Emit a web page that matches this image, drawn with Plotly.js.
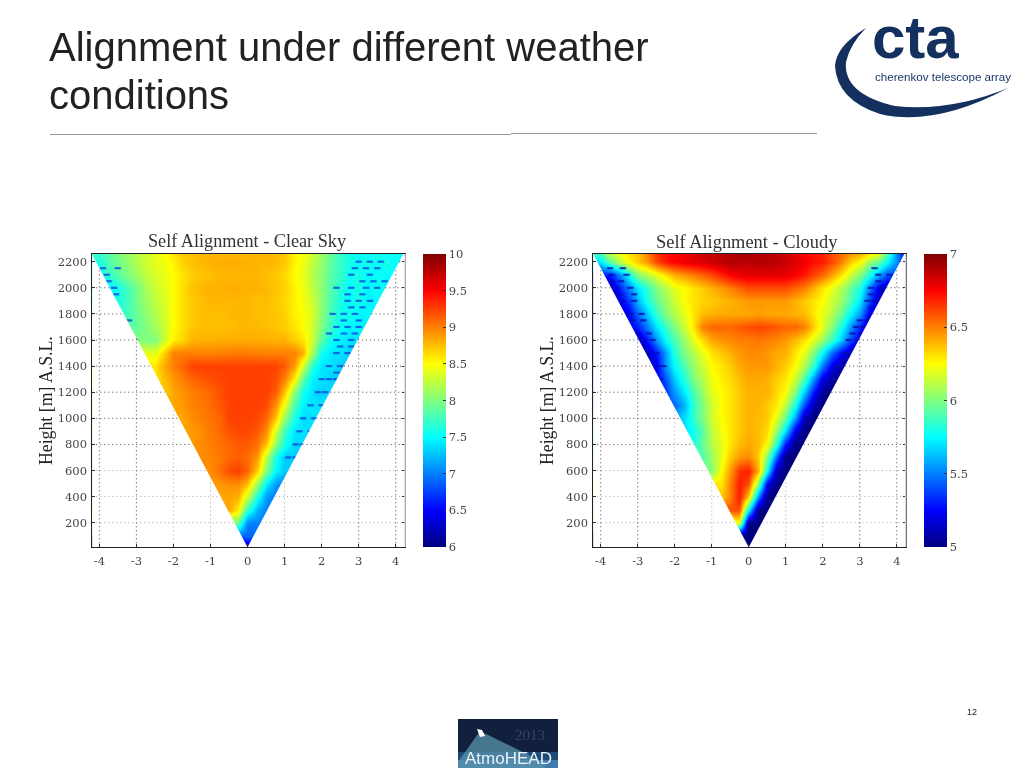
<!DOCTYPE html>
<html><head><meta charset="utf-8">
<script src="https://cdn.plot.ly/plotly-3.0.1.min.js"></script>
<style>html,body{margin:0;padding:0;background:#fff}#c{width:1024px;height:768px}</style>
</head><body><div id="c"></div>
<script>
// offset from the shower axis (columns) and height a.s.l. (rows)
const offsets=[-4.25,-4,-3.75,-3.5,-3.25,-3,-2.75,-2.5,-2.25,-2,-1.75,-1.5,-1.25,-1,-.75,-.5,-.25,0,.25,.5,.75,1,1.25,1.5,1.75,2,2.25,2.5,2.75,3,3.25,3.5,3.75,4,4.25];
const heights=[25,100,200,300,400,500,600,700,800,900,1000,1100,1200,1300,1400,1500,1600,1700,1800,1900,2000,2100,2200,2260];
const heightTicks=[200,400,600,800,1000,1200,1400,1600,1800,2000,2200];
const offsetTicks=[-4,-3,-2,-1,0,1,2,3,4];
const clearTicks=[6,6.5,7,7.5,8,8.5,9,9.5,10];
const cloudyTicks=[5,5.5,6,6.5,7];
const clearSky=[
[6.3,6.3,6.3,6.3,6.3,6.3,6.3,6.3,6.3,6.3,6.3,6.3,6.3,6.3,6.3,6.3,6.3,6.3,6.3,6.3,6.3,6.3,6.3,6.3,6.3,6.3,6.3,6.3,6.3,6.3,6.3,6.3,6.3,6.3,6.3],
[6.9,6.9,6.9,6.9,6.9,6.9,6.9,6.9,6.9,6.9,6.9,6.9,6.9,6.9,6.9,6.9,6.9,6.9,6.9,6.9,6.9,6.9,6.9,6.9,6.9,6.9,6.9,6.9,6.9,6.9,6.9,6.9,6.9,6.9,6.9],
[8,8,8,8,8,8,8,8,8,8,8,8,8,8,8,8,7.9,7.0,7,7,7,7,7,7,7,7,7,7,7,7,7,7,7,7,7],
[8.85,8.85,8.85,8.85,8.85,8.85,8.85,8.85,8.85,8.85,8.85,8.85,8.85,8.85,8.85,8.85,8.55,7.7,7.2,7,6.95,6.95,6.95,6.95,6.95,6.95,6.95,6.95,6.95,6.95,6.95,6.95,6.95,6.95,6.95],
[8.85,8.85,8.85,8.85,8.85,8.85,8.85,8.85,8.85,8.85,8.85,8.85,8.85,8.85,8.85,8.85,8.8,8.3,7.6,7.1,7,7,7,7,7,7,7,7,7,7,7,7,7,7,7],
[8.9,8.9,8.9,8.9,8.9,8.9,8.9,8.9,8.9,8.9,8.9,8.9,8.9,8.9,8.9,8.95,8.95,8.75,8.1,7.45,7.1,7,7,7,7,7,7,7,7,7,7,7,7,7,7],
[8.95,8.95,8.95,8.95,8.95,8.95,8.95,8.95,8.95,8.95,8.95,8.95,8.95,8.95,9.05,9.2,9.25,9.1,8.7,8,7.5,7.3,7.3,7.3,7.3,7.3,7.3,7.3,7.3,7.3,7.3,7.3,7.3,7.3,7.3],
[8.9,8.9,8.9,8.9,8.9,8.9,8.9,8.9,8.9,8.9,8.9,8.9,8.95,8.98,9.02,9.1,9.12,9.08,8.9,8.25,7.6,7.3,7.3,7.3,7.3,7.3,7.3,7.3,7.3,7.3,7.3,7.3,7.3,7.3,7.3],
[8.9,8.9,8.9,8.9,8.9,8.9,8.9,8.9,8.9,8.9,8.9,8.9,8.95,9,9.05,9.1,9.15,9.15,9.05,8.75,8.1,7.6,7.35,7.35,7.35,7.35,7.35,7.35,7.35,7.35,7.35,7.35,7.35,7.35,7.35],
[8.85,8.85,8.85,8.85,8.85,8.85,8.85,8.85,8.85,8.85,8.85,8.9,8.95,9.02,9.08,9.18,9.22,9.22,9.15,8.95,8.35,7.75,7.4,7.4,7.4,7.4,7.4,7.4,7.4,7.4,7.4,7.4,7.4,7.4,7.4],
[8.85,8.85,8.85,8.85,8.85,8.85,8.85,8.85,8.85,8.85,8.85,8.95,9,9.05,9.1,9.25,9.25,9.25,9.22,9.1,8.75,8.1,7.6,7.35,7.4,7.4,7.4,7.4,7.4,7.4,7.4,7.4,7.4,7.4,7.4],
[8.8,8.8,8.8,8.8,8.8,8.8,8.8,8.8,8.8,8.85,8.9,9,9.02,9.08,9.15,9.25,9.25,9.25,9.25,9.2,8.95,8.45,7.8,7.45,7.4,7.4,7.4,7.4,7.4,7.4,7.4,7.4,7.4,7.4,7.4],
[8.7,8.7,8.7,8.7,8.7,8.7,8.7,8.7,8.7,8.85,8.92,9,9.05,9.1,9.18,9.25,9.25,9.25,9.25,9.25,9.15,8.75,8.05,7.55,7.4,7.3,7.4,7.4,7.4,7.4,7.4,7.4,7.4,7.4,7.4],
[8.6,8.6,8.6,8.6,8.6,8.6,8.6,8.6,8.75,8.9,9,9.1,9.15,9.2,9.22,9.25,9.25,9.25,9.25,9.25,9.2,9,8.55,7.85,7.45,7.4,7.3,7.3,7.3,7.3,7.3,7.3,7.3,7.3,7.3],
[8.6,8.6,8.6,8.6,8.6,8.6,8.6,8.6,8.85,9,9.1,9.25,9.25,9.25,9.25,9.25,9.25,9.25,9.25,9.25,9.25,9.15,8.9,8.3,7.65,7.4,7.4,7.3,7.3,7.3,7.3,7.3,7.3,7.3,7.3],
[8.4,8.4,8.4,8.4,8.4,8.4,8.4,8.4,8.7,9,9,9,9,9,9,9.02,9.02,9.02,9,9,9,9,9,8.8,8.15,7.55,7.4,7.4,7.3,7.3,7.3,7.3,7.3,7.3,7.3],
[8,8,8,8,8,8,8,8,8.3,8.55,8.65,8.8,8.8,8.8,8.82,8.82,8.82,8.82,8.82,8.82,8.8,8.8,8.7,8.6,8.3,7.85,7.55,7.45,7.4,7.4,7.4,7.4,7.4,7.4,7.4],
[7.8,7.8,7.8,7.8,7.8,7.9,8,8.15,8.3,8.5,8.62,8.72,8.75,8.75,8.75,8.75,8.78,8.78,8.78,8.75,8.72,8.7,8.6,8.5,8.3,8,7.7,7.55,7.45,7.5,7.4,7.4,7.4,7.4,7.4],
[7.7,7.7,7.7,7.7,7.75,7.9,8.05,8.2,8.35,8.5,8.62,8.72,8.75,8.75,8.75,8.78,8.78,8.78,8.75,8.75,8.72,8.68,8.55,8.5,8.35,8.05,7.75,7.55,7.6,7.45,7.5,7.4,7.4,7.4,7.4],
[7.6,7.6,7.6,7.6,7.75,7.95,8.1,8.25,8.35,8.5,8.62,8.72,8.75,8.78,8.78,8.78,8.78,8.78,8.75,8.75,8.72,8.65,8.55,8.45,8.3,8.05,7.8,7.6,7.5,7.6,7.45,7.5,7.45,7.45,7.45],
[7.4,7.4,7.4,7.6,7.75,7.95,8.15,8.3,8.4,8.5,8.62,8.74,8.78,8.8,8.8,8.82,8.82,8.8,8.8,8.78,8.72,8.68,8.55,8.45,8.25,8.05,7.8,7.65,7.5,7.6,7.45,7.55,7.45,7.5,7.5],
[7.5,7.5,7.7,7.85,8,8.1,8.25,8.35,8.42,8.5,8.6,8.7,8.72,8.75,8.78,8.78,8.78,8.78,8.78,8.75,8.72,8.65,8.5,8.4,8.2,8.05,7.85,7.7,7.55,7.6,7.5,7.55,7.5,7.5,7.5],
[7.6,7.6,7.8,7.95,8.05,8.2,8.3,8.4,8.45,8.55,8.68,8.75,8.78,8.8,8.82,8.82,8.82,8.8,8.8,8.78,8.78,8.72,8.55,8.45,8.25,8.1,7.85,7.7,7.6,7.5,7.6,7.5,7.6,7.5,7.5],
[7.7,7.7,7.85,8,8.1,8.2,8.3,8.4,8.5,8.6,8.7,8.75,8.78,8.78,8.78,8.78,8.78,8.78,8.78,8.78,8.78,8.72,8.55,8.45,8.3,8.1,7.9,7.7,7.6,7.55,7.5,7.6,7.5,7.55,7.55]
];
const cloudy=[
[5,5,5,5,5,5,5,5,5,5,5,5,5,5,5,5,5,5,5,5,5,5,5,5,5,5,5,5,5,5,5,5,5,5,5],
[5,5,5,5,5,5,5,5,5,5,5,5,5,5,5,5,5,5,5,5,5,5,5,5,5,5,5,5,5,5,5,5,5,5,5],
[6.2,6.2,6.2,6.2,6.2,6.2,6.2,6.2,6.2,6.2,6.2,6.2,6.2,6.2,6.2,6.2,6.2,5,5,5,5,5,5,5,5,5,5,5,5,5,5,5,5,5,5],
[6.6,6.6,6.6,6.6,6.6,6.6,6.6,6.6,6.6,6.6,6.6,6.6,6.6,6.6,6.6,6.6,6.6,5.75,5,5,5,5,5,5,5,5,5,5,5,5,5,5,5,5,5],
[6.35,6.35,6.35,6.35,6.35,6.35,6.35,6.35,6.35,6.35,6.35,6.35,6.35,6.35,6.35,6.5,6.7,6.35,5.5,5,5,5,5,5,5,5,5,5,5,5,5,5,5,5,5],
[6.3,6.3,6.3,6.3,6.3,6.3,6.3,6.3,6.3,6.3,6.3,6.3,6.3,6.3,6.3,6.5,6.7,6.6,6,5.2,5,5,5,5,5,5,5,5,5,5,5,5,5,5,5],
[6,6,6,6,6,6,6,6,6,6,6,6,6,6,6.25,6.45,6.65,6.7,6.4,5.75,5.1,5,5,5,5,5,5,5,5,5,5,5,5,5,5],
[5.9,5.9,5.9,5.9,5.9,5.9,5.9,5.9,5.9,5.9,5.9,5.9,5.9,6.05,6.2,6.35,6.45,6.48,6.35,6,5.45,5,5,5,5,5,5,5,5,5,5,5,5,5,5],
[5.8,5.8,5.8,5.8,5.8,5.8,5.8,5.8,5.8,5.8,5.8,5.8,5.95,6.1,6.2,6.3,6.38,6.42,6.38,6.25,5.85,5.3,5,5,5,5,5,5,5,5,5,5,5,5,5],
[5.7,5.7,5.7,5.7,5.7,5.7,5.7,5.7,5.7,5.7,5.7,5.78,5.92,6.12,6.22,6.3,6.35,6.4,6.38,6.32,6.05,5.7,5.2,5,5,5,5,5,5,5,5,5,5,5,5],
[5.6,5.6,5.6,5.6,5.6,5.6,5.6,5.6,5.6,5.6,5.68,5.85,6,6.15,6.25,6.3,6.36,6.4,6.38,6.35,6.2,5.95,5.55,5.1,5,5,5,5,5,5,5,5,5,5,5],
[5.45,5.45,5.45,5.45,5.45,5.45,5.45,5.45,5.45,5.45,5.6,5.85,6,6.15,6.25,6.3,6.36,6.4,6.4,6.35,6.3,6.12,5.8,5.4,5.1,5,5,5,5,5,5,5,5,5,5],
[5.35,5.35,5.35,5.35,5.35,5.35,5.35,5.35,5.35,5.55,5.72,5.9,6.05,6.2,6.25,6.3,6.36,6.4,6.4,6.4,6.32,6.25,6,5.65,5.3,5.05,5,5,5,5,5,5,5,5,5],
[5.25,5.25,5.25,5.25,5.25,5.25,5.25,5.25,5.4,5.65,5.82,6,6.1,6.22,6.28,6.32,6.38,6.42,6.42,6.4,6.35,6.3,6.15,5.9,5.55,5.2,5.05,5,5,5,5,5,5,5,5],
[5.2,5.2,5.2,5.2,5.2,5.2,5.2,5.2,5.55,5.75,5.9,6.05,6.15,6.25,6.3,6.35,6.42,6.45,6.45,6.45,6.4,6.35,6.25,6.1,5.85,5.5,5.2,5.1,5.1,5.1,5.1,5.1,5.1,5.1,5.1],
[5.1,5.1,5.1,5.1,5.1,5.1,5.1,5.3,5.55,5.82,6,6.1,6.2,6.3,6.35,6.4,6.45,6.48,6.48,6.45,6.42,6.4,6.3,6.2,6,5.75,5.45,5.25,5.1,5.05,5.05,5.05,5.05,5.05,5.05],
[5.1,5.1,5.1,5.1,5.1,5.1,5.3,5.55,5.75,5.9,6.05,6.2,6.32,6.42,6.46,6.48,6.5,6.5,6.52,6.5,6.48,6.45,6.38,6.3,6.2,6.05,5.85,5.65,5.4,5.2,5.2,5.2,5.2,5.2,5.2],
[5.25,5.25,5.25,5.25,5.25,5.3,5.5,5.7,5.85,6,6.15,6.3,6.5,6.55,6.55,6.55,6.58,6.6,6.62,6.6,6.58,6.55,6.55,6.5,6.35,6.2,6,5.8,5.55,5.3,5.1,5.1,5.1,5.1,5.1],
[5.2,5.2,5.2,5.2,5.2,5.45,5.65,5.85,6,6.1,6.2,6.3,6.38,6.4,6.42,6.42,6.42,6.42,6.44,6.42,6.42,6.42,6.4,6.38,6.3,6.2,6.1,5.95,5.75,5.55,5.2,5.2,5.2,5.2,5.2],
[5.1,5.1,5.1,5.2,5.35,5.6,5.8,5.95,6.05,6.15,6.25,6.3,6.33,6.35,6.38,6.4,6.42,6.45,6.45,6.45,6.45,6.45,6.4,6.35,6.3,6.25,6.15,6.05,5.9,5.7,5.4,5.1,5.1,5.1,5.1],
[5.1,5.1,5.1,5.3,5.5,5.7,5.85,6,6.1,6.2,6.25,6.3,6.35,6.4,6.45,6.5,6.55,6.6,6.6,6.6,6.6,6.6,6.55,6.5,6.4,6.3,6.2,6.1,5.95,5.8,5.5,5.2,5.1,5.1,5.1],
[5.3,5.3,5.3,5.5,5.75,6,6.1,6.2,6.3,6.4,6.45,6.5,6.55,6.6,6.68,6.75,6.78,6.8,6.8,6.8,6.8,6.8,6.75,6.7,6.62,6.55,6.42,6.3,6.15,6,5.8,5.6,5.4,5.4,5.4],
[5.6,5.7,5.95,6.1,6.25,6.35,6.45,6.6,6.7,6.75,6.78,6.8,6.82,6.85,6.88,6.9,6.9,6.88,6.9,6.9,6.88,6.85,6.82,6.78,6.72,6.7,6.6,6.5,6.35,6.25,6.05,5.95,5.75,5.5,5.3],
[5.8,5.9,6.1,6.2,6.3,6.35,6.5,6.65,6.72,6.75,6.78,6.8,6.85,6.85,6.88,6.9,6.92,6.92,6.9,6.88,6.88,6.85,6.8,6.75,6.72,6.7,6.6,6.55,6.45,6.4,6.3,6.2,5.9,5.5,5.2]
];
// isolated low cells at the wedge edges
const clearLowX=[3,3.3,3.6,2.9,3.2,3.5,2.8,3.3,3.1,3.4,3.7,2.4,2.8,3.2,3.5,2.7,3.1,2.7,3,3.3,2.8,3.1,2.3,2.6,2.9,2.6,3,2.4,2.7,3,2.2,2.6,2.9,2.4,2.8,2.5,2.8,2.4,2.7,2.2,2.5,2.4,2,2.2,2.4,1.9,2.1,1.7,2,1.5,1.8,1.4,1.7,1.3,1.5,1.1,1.3,-3.9,-3.5,-3.8,-3.75,-3.6,-3.55,-3.2,-3.05];
const clearLowH=[2200,2200,2200,2150,2150,2150,2100,2100,2050,2050,2050,2000,2000,2000,2000,1950,1950,1900,1900,1900,1850,1850,1800,1800,1800,1750,1750,1700,1700,1700,1650,1650,1650,1600,1600,1550,1550,1500,1500,1400,1400,1350,1300,1300,1300,1200,1200,1100,1100,1000,1000,900,900,800,800,700,700,2150,2150,2100,2050,2000,1950,1750,1600];
const cloudyLowX=[-3.75,-3.4,-3.7,-3.3,-3.7,-3.45,-3.6,-3.2,-3.5,-3.1,-3.4,-3.1,-3.2,-2.9,-3.15,-2.85,-3,-2.7,-2.85,-2.6,-2.75,-2.5,-2.6,-2.5,-2.3,-2.4,3.4,3.5,3.8,3.5,3.3,3.6,3.3,3.2,3.4,3.3,3,3.2,2.9,3.1,2.8,3.05,2.7,2.95,2.6,2.8,2.5,2.7,2.4,2.55,2.3];
const cloudyLowH=[2150,2150,2100,2100,2050,2050,2000,2000,1950,1950,1900,1900,1800,1800,1750,1750,1650,1650,1600,1600,1500,1500,1450,1400,1400,1300,2150,2100,2100,2050,2000,2000,1950,1900,1900,1850,1750,1750,1700,1700,1650,1650,1600,1600,1500,1500,1450,1450,1400,1400,1300];
// colours and text
const jet=[[0,'#00007f'],[0.125,'#0000ff'],[0.375,'#00ffff'],[0.625,'#ffff00'],[0.875,'#ff0000'],[1,'#7f0000']];
const W=1024,H=768,SLOPE=0.00186;
const px=x=>x/W, py=y=>1-y/H;
const serif='"Liberation Serif",serif', tickFont={family:'"DejaVu Serif",serif',size:11.5,color:'#444'};
const YR=[11.5,2259];

function heat(z,zmin,zmax,ticks,xa,ya,barX){
  return {type:'heatmap',x:offsets,y:heights,z,zmin,zmax,zsmooth:'best',colorscale:jet,xaxis:xa,yaxis:ya,hoverinfo:'skip',
    colorbar:{x:px(barX),xanchor:'left',y:py(254),yanchor:'top',len:293/H,lenmode:'fraction',thickness:23.4,thicknessmode:'pixels',
      tickvals:ticks,ticktext:ticks.map(String),ticks:'inside',ticklen:3,tickcolor:'#333',xpad:0,ypad:0,outlinewidth:0,
      tickfont:{family:'"DejaVu Serif",serif',size:11.5,color:'#444'}}};
}
function lowCells(x,y,c,xa,ya){
  return {type:'scatter',mode:'markers',x,y,marker:{symbol:'line-ew',size:4.5,color:c,line:{color:c,width:2.2}},opacity:.8,xaxis:xa,yaxis:ya,hoverinfo:'skip',showlegend:false};
}
function masks(xr,xa,ya){
  const edge=YR[1]*SLOPE, pad=0.3, base={type:'scatter',mode:'lines',fill:'toself',fillcolor:'#fff',line:{width:0},xaxis:xa,yaxis:ya,hoverinfo:'skip',showlegend:false};
  return [
    {...base,x:[xr[0]-pad,-edge,0,0,xr[0]-pad,xr[0]-pad],y:[YR[1]+20,YR[1],YR[0],YR[0]-20,YR[0]-20,YR[1]+20]},
    {...base,x:[xr[1]+pad,edge,0,0,xr[1]+pad,xr[1]+pad],y:[YR[1]+20,YR[1],YR[0],YR[0]-20,YR[0]-20,YR[1]+20]}
  ];
}
function grid(xr,xa,ya){
  const dark={x:[],y:[]},light={x:[],y:[]};
  heightTicks.forEach(h=>{const t=h>=800?dark:light,e=h*SLOPE;
    t.x.push(xr[0],-e,null,e,xr[1],null);t.y.push(h,h,null,h,h,null);});
  offsetTicks.forEach(v=>{if(!v)return;const t=Math.abs(v)>=3?dark:light;
    t.x.push(v,v,null);t.y.push(YR[0],Math.abs(v)/SLOPE,null);});
  const mk=(d,c)=>({type:'scatter',mode:'lines',x:d.x,y:d.y,line:{color:c,width:1,dash:'1px,3px'},xaxis:xa,yaxis:ya,hoverinfo:'skip',showlegend:false});
  return [mk(light,'#a8a8a8'),mk(dark,'#444')];
}
const XR1=[-4.19,4.25],XR2=[-4.2,4.24];
const data=[
  heat(clearSky,6,10,clearTicks,'x','y',423.3),lowCells(clearLowX,clearLowH,'#0a45dc','x','y'),...masks(XR1,'x','y'),...grid(XR1,'x','y'),
  heat(cloudy,5,7,cloudyTicks,'x2','y2',924.3),lowCells(cloudyLowX,cloudyLowH,'#0010b0','x2','y2'),...masks(XR2,'x2','y2'),...grid(XR2,'x2','y2')
];
function xAxis(d,r){return {domain:[px(d[0]),px(d[1])],range:r,tickvals:offsetTicks,ticktext:offsetTicks.map(String),showgrid:false,zeroline:false,showline:true,linecolor:'#222',linewidth:1,mirror:true,ticks:'inside',ticklen:3,tickcolor:'#333',tickfont:tickFont,ticklabelstandoff:3};}
function yAxis(anchor,t){return {domain:[py(547.3),py(254)],range:YR,anchor,tickvals:heightTicks,ticktext:heightTicks.map(String),showgrid:false,zeroline:false,showline:true,linecolor:'#222',linewidth:1,mirror:'ticks',ticks:'inside',ticklen:3,tickcolor:'#333',tickfont:tickFont,ticklabelstandoff:2,
  title:{text:t,standoff:0,font:{family:serif,size:17.8,color:'#222'}}};}
const rect=(x0,y0,x1,y1,c,o)=>({type:'rect',xref:'paper',yref:'paper',x0:px(x0),x1:px(x1),y0:py(y0),y1:py(y1),fillcolor:c,line:{width:0},opacity:o===undefined?1:o,layer:'above'});
const line=(x0,y0,x1,y1,c,w)=>({type:'line',xref:'paper',yref:'paper',x0:px(x0),x1:px(x1),y0:py(y0),y1:py(y1),line:{color:c,width:w||1},layer:'above'});
const pth=pts=>pts.map(s=>typeof s==='string'?s:px(s[0]).toFixed(5)+','+py(s[1]).toFixed(5)).join(' ');
const swoosh=pth(['M',[866,28],'Q',[836,46],[835,66],'Q',[837,100],[880,114],'Q',[935,127],[1008,88],'Q',[950,112],[895,106],'Q',[843,94],[846,62],'Q',[850,44],[866,28],'Z']);
const beam=pth(['M',[480,731],'L',[458,762],'L',[458,768],'L',[545,768],'L',[545,763],'Z']);
const blob=pth(['M',[477,729],'L',[482,730],'L',[485,736],'L',[480,737],'Z']);
const shapes=[
  line(50,134.5,511,134.5,'#999'),line(511,133.5,817,133.5,'#999'),
  line(405,254,405,547,'#d8d8d8',1.5),line(905.7,254,905.7,547,'#d8d8d8',1.5),
  {type:'path',xref:'paper',yref:'paper',path:swoosh,fillcolor:'#14305f',line:{width:0},layer:'above'},
  rect(458,719,558,768,'#13203d'),
  rect(458,752,558,760,'#1f4a78'),rect(458,760,558,768,'#3f79ad'),
  {type:'path',xref:'paper',yref:'paper',path:beam,fillcolor:'#5a93ad',opacity:.75,line:{width:0},layer:'above'},
  {type:'path',xref:'paper',yref:'paper',path:blob,fillcolor:'#ffffff',line:{width:0},layer:'above'}
];
const note=(text,x,y,font,extra)=>Object.assign({text,xref:'paper',yref:'paper',x:px(x),y:py(y),showarrow:false,xanchor:'left',yanchor:'middle',font,borderpad:0},extra||{});
const sans='"Liberation Sans",Arial,sans-serif';
const annotations=[
  note('Alignment under different weather',48,47,{family:sans,size:40,color:'#222'}),
  note('conditions',48,95,{family:sans,size:40,color:'#222'}),
  note('Self Alignment - Clear Sky',247,240.5,{family:serif,size:18.2,color:'#333'},{xanchor:'center'}),
  note('Self Alignment - Cloudy',747,242,{family:serif,size:18.4,color:'#333'},{xanchor:'center'}),
  note('cta',871,38,{family:sans,size:60,color:'#14305f',weight:700}),
  note('cherenkov telescope array',874,76,{family:sans,size:11.6,color:'#14305f'}),
  note('12',972,712,{family:sans,size:9,color:'#222'},{xanchor:'center'}),
  note('2013',530,735,{family:serif,size:15,color:'#33436f'},{xanchor:'center'}),
  note('AtmoHEAD',508,758,{family:sans,size:17,color:'#e8f2f8'},{xanchor:'center'})
];
const layout={width:W,height:H,margin:{l:0,r:0,t:0,b:0},paper_bgcolor:'#fff',plot_bgcolor:'#fff',showlegend:false,
  xaxis:xAxis([92.3,405],XR1),yaxis:yAxis('x','Height [m] A.S.L.'),
  xaxis2:xAxis([593.3,905.7],XR2),yaxis2:yAxis('x2','Height [m] A.S.L.'),
  shapes,annotations};
Plotly.newPlot('c',data,layout,{displayModeBar:false,staticPlot:true});
</script></body></html>
